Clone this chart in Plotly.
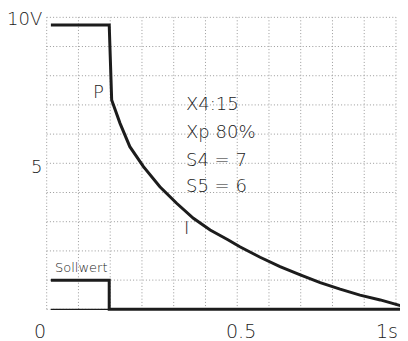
import plotly.graph_objects as go

# ---- data (seconds, volts) ----
curve_t = [0.186, 0.210, 0.238, 0.277, 0.324, 0.372, 0.420, 0.468, 0.520, 0.553,
           0.611, 0.668, 0.726, 0.783, 0.840, 0.897, 0.955, 1.016]
curve_v = [7.36, 6.54, 5.72, 5.02, 4.31, 3.73, 3.20, 2.79, 2.44, 2.20,
           1.83, 1.50, 1.21, 0.94, 0.71, 0.50, 0.33, 0.12]

step_t = [0.012, 0.179, 0.186]
step_v = [10.0, 10.0, 7.36]

soll_t = [0.012, 0.179, 0.179, 1.016]
soll_v = [1.02, 1.02, 0.0, 0.0]

base_t = [0.012, 0.179]
base_v = [0.0, 0.0]

grid_x = [k / 11 for k in range(12)]
grid_y = [k * 1.027 for k in range(11)]

ytick_vals = [10.22, 5.04]
ytick_text = ["10V", "5"]
xtick_vals = [-0.019, 0.556, 0.975]
xtick_text = ["0", "0.5", "1s"]

notes = ["X4:15", "Xp 80%", "S4 = 7", "S5 = 6"]
notes_v = [7.23, 6.27, 5.28, 4.37]

FONT = "DejaVu Sans"
TXT = "#222222"
LINE = "#1c1c1c"
GRID = "#999999"

fig = go.Figure()
fig.add_trace(go.Scatter(x=base_t, y=base_v, mode="lines",
                         line=dict(color=LINE, width=1.3), hoverinfo="skip"))
fig.add_trace(go.Scatter(x=soll_t, y=soll_v, mode="lines",
                         line=dict(color=LINE, width=3), hoverinfo="skip"))
fig.add_trace(go.Scatter(x=step_t + curve_t, y=step_v + curve_v, mode="lines",
                         line=dict(color=LINE, width=3), hoverinfo="skip"))

shapes = []
for gx in grid_x:
    shapes.append(dict(type="line", xref="x", yref="y", x0=gx, x1=gx, y0=0, y1=grid_y[-1],
                       line=dict(color=GRID, width=1, dash="1px,2.2px"), layer="below"))
for gy in grid_y:
    shapes.append(dict(type="line", xref="x", yref="y", x0=0, x1=grid_x[-1], y0=gy, y1=gy,
                       line=dict(color=GRID, width=1, dash="1px,2.2px"), layer="below"))

ann = []
for v, t in zip(ytick_vals, ytick_text):
    ann.append(dict(x=-0.009, y=v, xref="x", yref="y", text=t, showarrow=False,
                    xanchor="right", yanchor="middle",
                    font=dict(family=FONT, size=18, color=TXT, weight=200)))
for x, t in zip(xtick_vals, xtick_text):
    ann.append(dict(x=x, y=-0.746, xref="x", yref="y", text=t, showarrow=False,
                    xanchor="center", yanchor="middle",
                    font=dict(family=FONT, size=19, color=TXT, weight=200)))
for v, t in zip(notes_v, notes):
    ann.append(dict(x=0.393, y=v, xref="x", yref="y", text=t, showarrow=False,
                    xanchor="left", yanchor="middle",
                    font=dict(family=FONT, size=18, color=TXT, weight=200)))
ann.append(dict(x=0.147, y=7.65, xref="x", yref="y", text="P", showarrow=False,
                xanchor="center", yanchor="middle",
                font=dict(family=FONT, size=18, color=TXT, weight=200)))
ann.append(dict(x=0.401, y=2.86, xref="x", yref="y", text="I", showarrow=False,
                xanchor="center", yanchor="middle",
                font=dict(family=FONT, size=18, color=TXT, weight=200)))
ann.append(dict(x=0.019, y=1.46, xref="x", yref="y", text="Sollwert", showarrow=False,
                xanchor="left", yanchor="middle",
                font=dict(family=FONT, size=13, color=TXT, weight=200)))

# page body has an 8px margin: figure spans page pixels 8..408 x 8..341
fig.update_layout(
    width=400, height=333,
    margin=dict(l=0, r=0, t=0, b=0, pad=0),
    paper_bgcolor="white", plot_bgcolor="white",
    showlegend=False,
    xaxis=dict(range=[-0.1108, 1.0344], visible=False, fixedrange=True),
    yaxis=dict(range=[-1.115, 10.598], visible=False, fixedrange=True),
    shapes=shapes, annotations=ann,
)
fig.write_html("out.html")
